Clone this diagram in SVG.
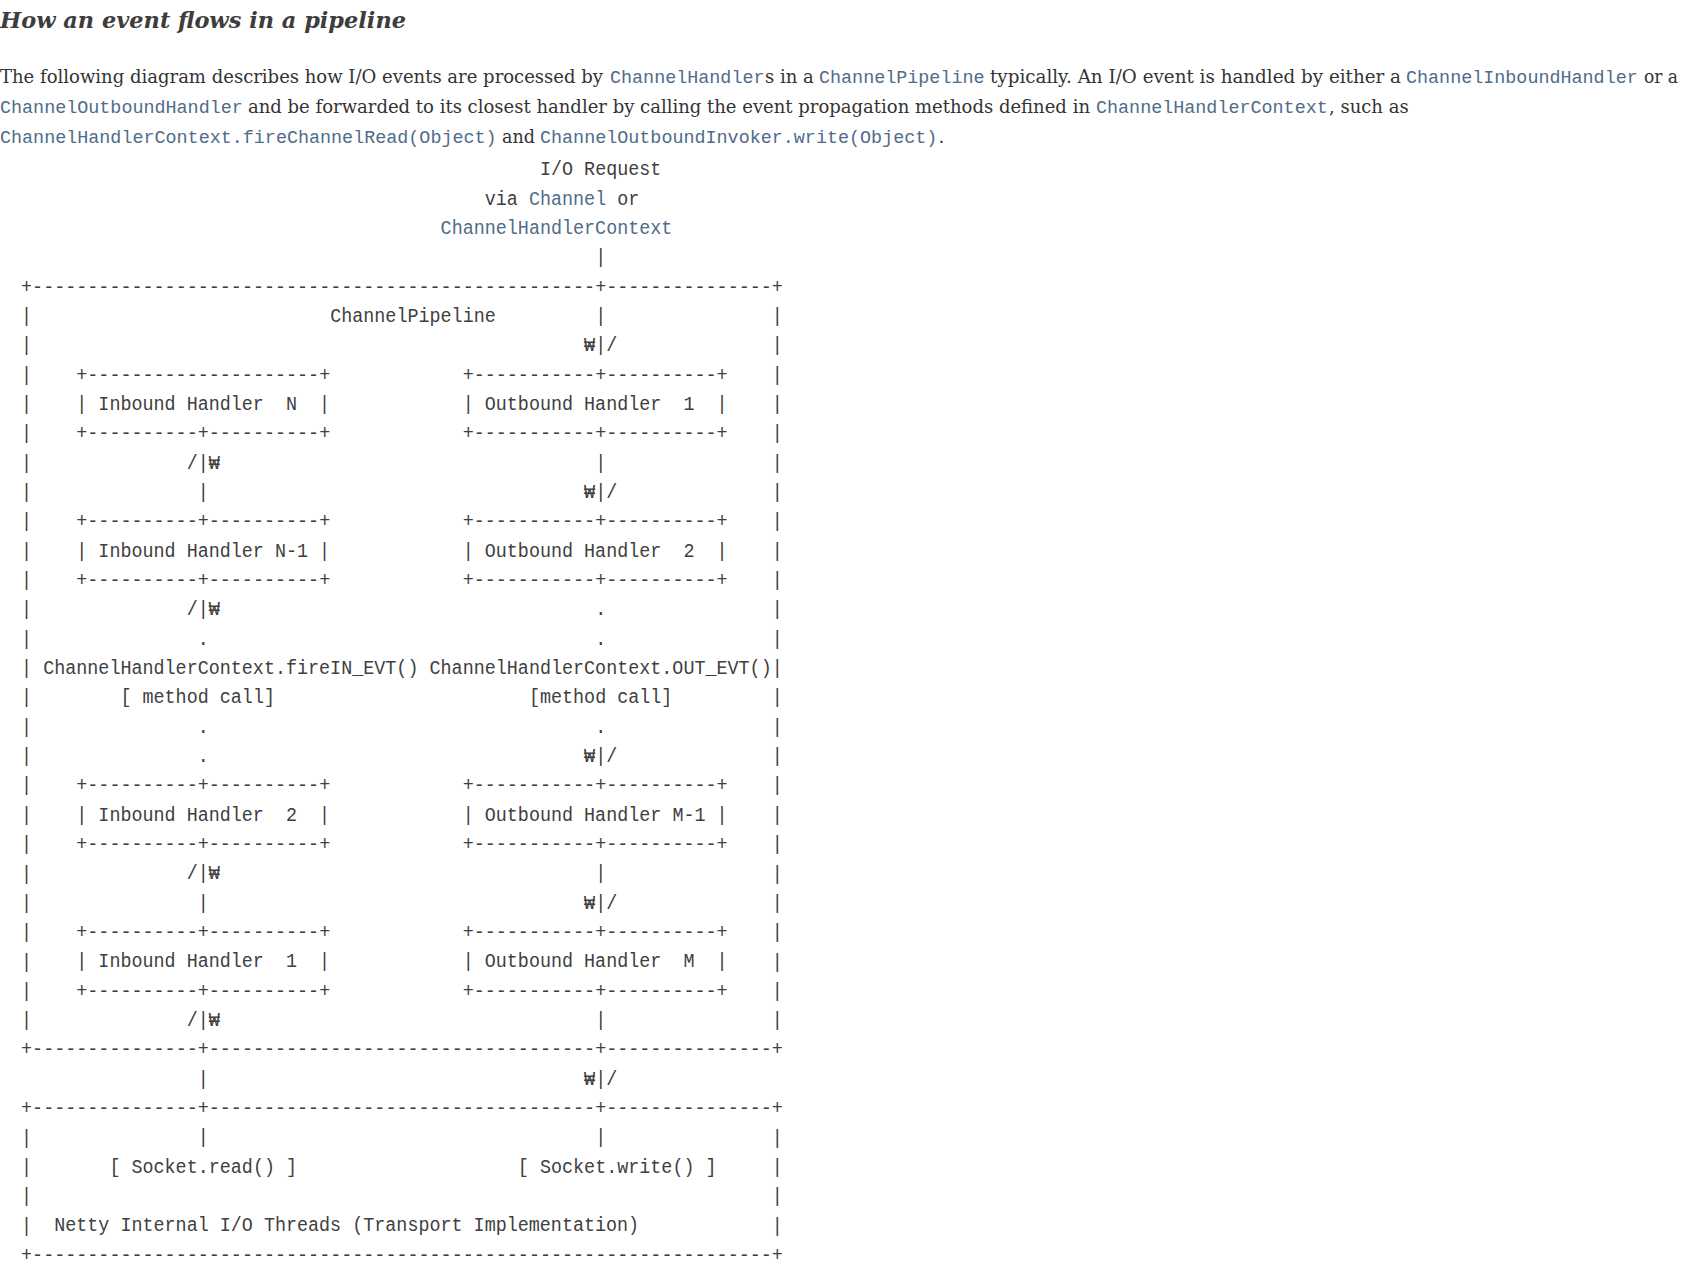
<svg xmlns="http://www.w3.org/2000/svg" width="1687" height="1270" viewBox="0 0 1687 1270">
<style>
.m{font-family:"Liberation Mono","DejaVu Sans Mono",monospace;font-size:21px;fill:#404040;white-space:pre}
.lk{fill:#4f6c8a}
.pm{font-family:"Liberation Mono","DejaVu Sans Mono",monospace;font-size:18.4px;fill:#4f6c8a}
.s{font-family:"DejaVu Serif","Liberation Serif",serif;font-size:18px;fill:#333}
.t{font-family:"DejaVu Serif","Liberation Serif",serif;font-size:23px;font-weight:bold;font-style:italic;fill:#3d3d3d}
</style>
<rect width="1687" height="1270" fill="#fff"/>
<text class="t" x="0" y="28" textLength="406" lengthAdjust="spacingAndGlyphs">How an event flows in a pipeline</text>
<g id="intro">
<text class="s" x="0" y="83" textLength="603" lengthAdjust="spacingAndGlyphs">The following diagram describes how I/O events are processed by</text>
<text class="pm" x="610" y="83">ChannelHandler</text>
<text class="s" x="765" y="83">s in a</text>
<text class="pm" x="819" y="83">ChannelPipeline</text>
<text class="s" x="990" y="83" textLength="411" lengthAdjust="spacingAndGlyphs">typically. An I/O event is handled by either a</text>
<text class="pm" x="1406" y="83">ChannelInboundHandler</text>
<text class="s" x="1644" y="83" textLength="34" lengthAdjust="spacingAndGlyphs">or a</text>
<text class="pm" x="0" y="113">ChannelOutboundHandler</text>
<text class="s" x="248" y="113" textLength="842" lengthAdjust="spacingAndGlyphs">and be forwarded to its closest handler by calling the event propagation methods defined in</text>
<text class="pm" x="1096" y="113">ChannelHandlerContext</text>
<text class="s" x="1329" y="113">, such as</text>
<text class="pm" x="0" y="142.5">ChannelHandlerContext.fireChannelRead(Object)</text>
<text class="s" x="502" y="142.5" textLength="33" lengthAdjust="spacingAndGlyphs">and</text>
<text class="pm" x="540" y="142.5">ChannelOutboundInvoker.write(Object)</text>
<text class="s" x="938.5" y="142.5">.</text>
</g>
<g id="diagram" transform="translate(-1,0) scale(0.87619,1)">
<defs><text id="vb" class="m">|</text></defs>
<g id="request">
<text class="m" x="617.4" y="175.3">I/O Request</text>
<text class="m" x="554.4" y="204.6">via</text>
<text class="m lk" x="604.8" y="204.6">Channel</text>
<text class="m" x="705.6" y="204.6">or</text>
<text class="m lk" x="504" y="234">ChannelHandlerContext</text>
</g>
<g id="pipeline">
<text class="m" x="25.2" y="292.7" textLength="869.4" lengthAdjust="spacingAndGlyphs">+---------------------------------------------------+---------------+</text>
<text class="m" x="378" y="322">ChannelPipeline</text>
<use href="#vb" x="25.2" y="322"/><use href="#vb" x="882" y="322"/>
<use href="#vb" x="25.2" y="351.3"/><use href="#vb" x="882" y="351.3"/>
<use href="#vb" x="25.2" y="380.7"/><use href="#vb" x="882" y="380.7"/>
<use href="#vb" x="25.2" y="410"/><use href="#vb" x="882" y="410"/>
<use href="#vb" x="25.2" y="439.4"/><use href="#vb" x="882" y="439.4"/>
<use href="#vb" x="25.2" y="468.7"/><use href="#vb" x="882" y="468.7"/>
<use href="#vb" x="25.2" y="498"/><use href="#vb" x="882" y="498"/>
<use href="#vb" x="25.2" y="527.4"/><use href="#vb" x="882" y="527.4"/>
<use href="#vb" x="25.2" y="556.7"/><use href="#vb" x="882" y="556.7"/>
<use href="#vb" x="25.2" y="586.1"/><use href="#vb" x="882" y="586.1"/>
<use href="#vb" x="25.2" y="615.4"/><use href="#vb" x="882" y="615.4"/>
<use href="#vb" x="25.2" y="644.7"/><use href="#vb" x="882" y="644.7"/>
<use href="#vb" x="25.2" y="674.1"/><use href="#vb" x="882" y="674.1"/>
<use href="#vb" x="25.2" y="703.4"/><use href="#vb" x="882" y="703.4"/>
<use href="#vb" x="25.2" y="732.8"/><use href="#vb" x="882" y="732.8"/>
<use href="#vb" x="25.2" y="762.1"/><use href="#vb" x="882" y="762.1"/>
<use href="#vb" x="25.2" y="791.4"/><use href="#vb" x="882" y="791.4"/>
<use href="#vb" x="25.2" y="820.8"/><use href="#vb" x="882" y="820.8"/>
<use href="#vb" x="25.2" y="850.1"/><use href="#vb" x="882" y="850.1"/>
<use href="#vb" x="25.2" y="879.5"/><use href="#vb" x="882" y="879.5"/>
<use href="#vb" x="25.2" y="908.8"/><use href="#vb" x="882" y="908.8"/>
<use href="#vb" x="25.2" y="938.1"/><use href="#vb" x="882" y="938.1"/>
<use href="#vb" x="25.2" y="967.5"/><use href="#vb" x="882" y="967.5"/>
<use href="#vb" x="25.2" y="996.8"/><use href="#vb" x="882" y="996.8"/>
<use href="#vb" x="25.2" y="1026.2"/><use href="#vb" x="882" y="1026.2"/>
<text class="m" x="25.2" y="1055.5" textLength="869.4" lengthAdjust="spacingAndGlyphs">+---------------+-----------------------------------+---------------+</text>
</g>
<g id="inbound-n">
<text class="m" x="88.2" y="380.7" textLength="289.8" lengthAdjust="spacingAndGlyphs">+---------------------+</text>
<text class="m" x="88.2" y="410" xml:space="preserve">| Inbound Handler  N  |</text>
<text class="m" x="88.2" y="439.4" textLength="289.8" lengthAdjust="spacingAndGlyphs">+----------+----------+</text>
</g>
<g id="outbound-1">
<text class="m" x="529.2" y="380.7" textLength="302.4" lengthAdjust="spacingAndGlyphs">+-----------+----------+</text>
<text class="m" x="529.2" y="410" xml:space="preserve">| Outbound Handler  1  |</text>
<text class="m" x="529.2" y="439.4" textLength="302.4" lengthAdjust="spacingAndGlyphs">+-----------+----------+</text>
</g>
<g id="inbound-n-1">
<text class="m" x="88.2" y="527.4" textLength="289.8" lengthAdjust="spacingAndGlyphs">+----------+----------+</text>
<text class="m" x="88.2" y="556.7" xml:space="preserve">| Inbound Handler N-1 |</text>
<text class="m" x="88.2" y="586.1" textLength="289.8" lengthAdjust="spacingAndGlyphs">+----------+----------+</text>
</g>
<g id="outbound-2">
<text class="m" x="529.2" y="527.4" textLength="302.4" lengthAdjust="spacingAndGlyphs">+-----------+----------+</text>
<text class="m" x="529.2" y="556.7" xml:space="preserve">| Outbound Handler  2  |</text>
<text class="m" x="529.2" y="586.1" textLength="302.4" lengthAdjust="spacingAndGlyphs">+-----------+----------+</text>
</g>
<g id="inbound-2">
<text class="m" x="88.2" y="791.4" textLength="289.8" lengthAdjust="spacingAndGlyphs">+----------+----------+</text>
<text class="m" x="88.2" y="820.8" xml:space="preserve">| Inbound Handler  2  |</text>
<text class="m" x="88.2" y="850.1" textLength="289.8" lengthAdjust="spacingAndGlyphs">+----------+----------+</text>
</g>
<g id="outbound-m-1">
<text class="m" x="529.2" y="791.4" textLength="302.4" lengthAdjust="spacingAndGlyphs">+-----------+----------+</text>
<text class="m" x="529.2" y="820.8" xml:space="preserve">| Outbound Handler M-1 |</text>
<text class="m" x="529.2" y="850.1" textLength="302.4" lengthAdjust="spacingAndGlyphs">+-----------+----------+</text>
</g>
<g id="inbound-1">
<text class="m" x="88.2" y="938.1" textLength="289.8" lengthAdjust="spacingAndGlyphs">+----------+----------+</text>
<text class="m" x="88.2" y="967.5" xml:space="preserve">| Inbound Handler  1  |</text>
<text class="m" x="88.2" y="996.8" textLength="289.8" lengthAdjust="spacingAndGlyphs">+----------+----------+</text>
</g>
<g id="outbound-m">
<text class="m" x="529.2" y="938.1" textLength="302.4" lengthAdjust="spacingAndGlyphs">+-----------+----------+</text>
<text class="m" x="529.2" y="967.5" xml:space="preserve">| Outbound Handler  M  |</text>
<text class="m" x="529.2" y="996.8" textLength="302.4" lengthAdjust="spacingAndGlyphs">+-----------+----------+</text>
</g>
<g id="connectors">
<text class="m" x="680.4" y="263.3">|</text>
<text class="m" x="680.4" y="322">|</text>
<text class="m" x="667.8" y="351.3">₩|/</text>
<text class="m" x="214.2" y="468.7">/|₩</text>
<text class="m" x="680.4" y="468.7">|</text>
<text class="m" x="226.8" y="498">|</text>
<text class="m" x="667.8" y="498">₩|/</text>
<text class="m" x="214.2" y="615.4">/|₩</text>
<text class="m" x="680.4" y="615.4">.</text>
<text class="m" x="226.8" y="644.7">.</text>
<text class="m" x="680.4" y="644.7">.</text>
<text class="m" x="50.4" y="674.1">ChannelHandlerContext.fireIN_EVT()</text>
<text class="m" x="491.4" y="674.1">ChannelHandlerContext.OUT_EVT()</text>
<text class="m" x="138.6" y="703.4" xml:space="preserve">[ method call]</text>
<text class="m" x="604.8" y="703.4">[method call]</text>
<text class="m" x="226.8" y="732.8">.</text>
<text class="m" x="680.4" y="732.8">.</text>
<text class="m" x="226.8" y="762.1">.</text>
<text class="m" x="667.8" y="762.1">₩|/</text>
<text class="m" x="214.2" y="879.5">/|₩</text>
<text class="m" x="680.4" y="879.5">|</text>
<text class="m" x="226.8" y="908.8">|</text>
<text class="m" x="667.8" y="908.8">₩|/</text>
<text class="m" x="214.2" y="1026.2">/|₩</text>
<text class="m" x="680.4" y="1026.2">|</text>
<text class="m" x="226.8" y="1084.8">|</text>
<text class="m" x="667.8" y="1084.8">₩|/</text>
<text class="m" x="226.8" y="1143.5">|</text>
<text class="m" x="680.4" y="1143.5">|</text>
</g>
<g id="transport">
<text class="m" x="25.2" y="1114.2" textLength="869.4" lengthAdjust="spacingAndGlyphs">+---------------+-----------------------------------+---------------+</text>
<use href="#vb" x="25.2" y="1143.5"/><use href="#vb" x="882" y="1143.5"/>
<use href="#vb" x="25.2" y="1172.9"/><use href="#vb" x="882" y="1172.9"/>
<use href="#vb" x="25.2" y="1202.2"/><use href="#vb" x="882" y="1202.2"/>
<use href="#vb" x="25.2" y="1231.5"/><use href="#vb" x="882" y="1231.5"/>
<text class="m" x="126" y="1172.9" xml:space="preserve">[ Socket.read() ]</text>
<text class="m" x="592.2" y="1172.9" xml:space="preserve">[ Socket.write() ]</text>
<text class="m" x="63" y="1231.5" xml:space="preserve">Netty Internal I/O Threads (Transport Implementation)</text>
<text class="m" x="25.2" y="1260.9" textLength="869.4" lengthAdjust="spacingAndGlyphs">+-------------------------------------------------------------------+</text>
</g>
</g>
</svg>
